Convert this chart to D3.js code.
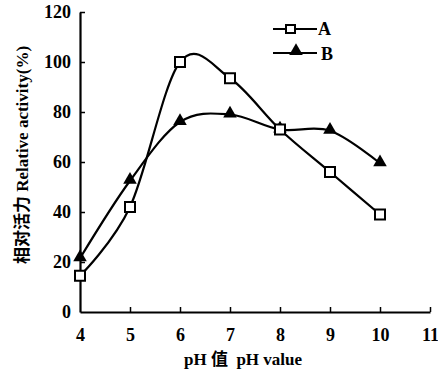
<!DOCTYPE html>
<html>
<head>
<meta charset="utf-8">
<script src="https://cdn.jsdelivr.net/npm/d3@7"></script>
<style>
  body { margin: 0; background: #fff; }
</style>
</head>
<body>
<svg id="chart" width="438" height="372"></svg>
<script>
// data
var phValues = [4, 5, 6, 7, 8, 9, 10];
var seriesA = [14.5, 42, 100, 93.5, 73, 56, 39];
var seriesB = [21.5, 52.5, 76, 79, 73, 72.5, 59.5];
var xTicks = [4, 5, 6, 7, 8, 9, 10, 11];
var yTicks = [0, 20, 40, 60, 80, 100, 120];

var fontFam = "'Liberation Serif', Times, serif, 'Noto Sans CJK SC'";

var svg = d3.select("#chart"),
    margin = {top: 12, right: 8, bottom: 60, left: 80};

var x = d3.scaleLinear().domain([4, 11]).range([0, 350]),
    y = d3.scaleLinear().domain([0, 120]).range([300, 0]);

var g = svg.append("g")
    .attr("transform", "translate(" + margin.left + "," + margin.top + ")");

// axes, ticks pointing inward
var xAxis = g.append("g")
    .attr("transform", "translate(0,300)")
    .call(d3.axisBottom(x).tickValues(xTicks).tickFormat(d3.format("d"))
      .tickSize(-5).tickPadding(16).tickSizeOuter(0));
var yAxis = g.append("g")
    .call(d3.axisLeft(y).tickValues(yTicks).tickFormat(d3.format("d"))
      .tickSize(-5).tickPadding(9).tickSizeOuter(0));

[xAxis, yAxis].forEach(function(a) {
  a.attr("font-family", null);
  a.select(".domain").attr("stroke-width", 2.2);
  a.selectAll(".tick line").attr("stroke-width", 1.5);
  a.selectAll(".tick text").style("font-size", "18px");
});
xAxis.selectAll(".tick").filter(function(d) { return d === 4; }).select("line").remove();
yAxis.selectAll(".tick").filter(function(d) { return d === 0; }).select("line").remove();

var line = d3.line()
    .x(function(d) { return x(d[0]); })
    .y(function(d) { return y(d[1]); })
    .curve(d3.curveCatmullRom.alpha(0));

var dataA = phValues.map(function(p, i) { return [p, seriesA[i]]; });
var dataB = phValues.map(function(p, i) { return [p, seriesB[i]]; });

g.append("path").datum(dataA)
    .attr("fill", "none").attr("stroke", "#000").attr("stroke-width", 2.2)
    .attr("d", line);
g.append("path").datum(dataB)
    .attr("fill", "none").attr("stroke", "#000").attr("stroke-width", 2.2)
    .attr("d", line);

var tri = d3.symbol().type(d3.symbolTriangle).size(80);

g.selectAll(".ptB").data(dataB).enter().append("path")
    .attr("class", "ptB")
    .attr("transform", function(d) { return "translate(" + x(d[0]) + "," + (y(d[1]) - 1) + ")"; })
    .attr("d", tri)
    .attr("fill", "#000");

g.selectAll(".ptA").data(dataA).enter().append("rect")
    .attr("class", "ptA")
    .attr("x", function(d) { return x(d[0]) - 5; })
    .attr("y", function(d) { return y(d[1]) - 5; })
    .attr("width", 10).attr("height", 10)
    .attr("fill", "#fff").attr("stroke", "#000").attr("stroke-width", 2);

// legend
var legend = svg.append("g").attr("transform", "translate(273,29)");
legend.append("line").attr("x1", 0).attr("x2", 44).attr("y1", 0).attr("y2", 0)
    .attr("stroke", "#000").attr("stroke-width", 2);
legend.append("rect").attr("x", 13).attr("y", -4).attr("width", 9).attr("height", 8)
    .attr("fill", "#fff").attr("stroke", "#000").attr("stroke-width", 2);
legend.append("text").attr("x", 45).attr("y", 6).style("font-size", "18px").text("A");
legend.append("line").attr("x1", 0).attr("x2", 44).attr("y1", 24).attr("y2", 24)
    .attr("stroke", "#000").attr("stroke-width", 2);
legend.append("path").attr("transform", "translate(23,22)").attr("d", tri).attr("fill", "#000");
legend.append("text").attr("x", 48).attr("y", 31).style("font-size", "18px").text("B");

// axis titles
svg.append("text")
    .attr("x", 243).attr("y", 365)
    .attr("text-anchor", "middle")
    .style("font-size", "17px")
    .attr("xml:space", "preserve")
    .text("pH 值  pH value");

svg.append("text")
    .attr("transform", "translate(28,155) rotate(-90)")
    .attr("text-anchor", "middle")
    .style("font-size", "17px")
    .text("相对活力 Relative activity(%)");

svg.selectAll("text")
    .style("font-family", fontFam)
    .style("font-weight", "bold")
    .attr("fill", "#000");
</script>
</body>
</html>
